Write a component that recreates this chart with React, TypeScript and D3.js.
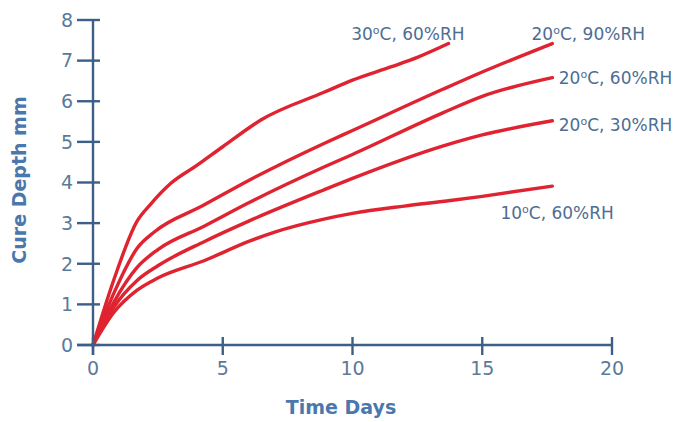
import React from 'react';
import * as d3 from 'd3';

type Pt = [number, number];

// values (days, mm)
const cure30c60: Pt[] = [[0, 0], [0.8, 1.6], [1.7, 3.05], [2.2, 3.45], [3, 3.98], [4, 4.42], [5, 4.88], [6.5, 5.55], [8.9, 6.22], [10, 6.52], [11.5, 6.85], [12.5, 7.08], [13.7, 7.42]];
const cure20c90: Pt[] = [[0, 0], [0.8, 1.27], [1.7, 2.38], [2.4, 2.8], [4.2, 3.42], [6, 4.05], [8.9, 4.96], [10, 5.28], [13.5, 6.3], [15, 6.72], [17.7, 7.42]];
const cure20c60: Pt[] = [[0, 0], [0.8, 1.05], [1.7, 1.91], [2.5, 2.35], [4.3, 2.93], [6, 3.5], [8.9, 4.38], [10, 4.69], [13.5, 5.72], [15, 6.12], [17.7, 6.58]];
const cure20c30: Pt[] = [[0, 0], [0.8, 0.93], [1.7, 1.59], [2.5, 1.95], [4.3, 2.55], [6, 3.05], [8.9, 3.82], [10, 4.1], [13.5, 4.9], [15, 5.17], [17.7, 5.52]];
const cure10c60: Pt[] = [[0, 0], [0.8, 0.8], [1.7, 1.35], [2.5, 1.65], [4.3, 2.08], [6, 2.55], [7, 2.78], [8.9, 3.1], [10, 3.24], [12, 3.42], [13.7, 3.55], [15, 3.66], [17.7, 3.91]];

const seriesNames = ['30ºC, 60%RH', '20ºC, 90%RH', '20ºC, 60%RH', '20ºC, 30%RH', '10ºC, 60%RH'];
const seriesData = [cure30c60, cure20c90, cure20c60, cure20c30, cure10c60];

const xTicks = [0, 5, 10, 15, 20];
const yTicks = [0, 1, 2, 3, 4, 5, 6, 7, 8];

// label anchor points in data space (start of text)
const labelAt: Pt[] = [[9.95, 7.65], [16.9, 7.65], [17.95, 6.57], [17.95, 5.43], [15.7, 3.24]];

const W = 694, H = 422;
const AXIS = '#3d5e87';
const TICK_TXT = '#5b7a9a';
const TITLE = '#4a78ad';
const LABEL = '#4d6e94';
const RED = '#df2330';
const FONT = '"DejaVu Sans", Verdana, sans-serif';

export default function App() {
    const x = d3.scaleLinear().domain([0, 20]).range([93, 612]);
    const y = d3.scaleLinear().domain([0, 8]).range([345, 20]);

    const line = d3.line<Pt>()
        .x(d => x(d[0]))
        .y(d => y(d[1]))
        .curve(d3.curveMonotoneX);

    // render the "º" as a small raised o, like the original artwork
    const degLabel = (s: string) => {
        const [num, rest] = s.split('º');
        return (<>
            {num}<tspan dy={-6} fontSize={11}>o</tspan><tspan dy={6}>{rest}</tspan>
        </>);
    };

    return (
        <svg width={W} height={H} style={{ position: 'absolute', left: 0, top: 0, background: '#fff' }} fontFamily={FONT}>
            {/* series */}
            <g fill='none' stroke={RED} strokeWidth={3.4} strokeLinecap='round' strokeLinejoin='round'>
                {seriesData.map((d, i) => <path key={`s-${i}`} d={line(d) || ''} />)}
            </g>

            {/* axes */}
            <g stroke={AXIS} strokeWidth={2.4}>
                <line x1={x(0)} x2={x(0)} y1={y(8)} y2={y(0) + 10} />
                {yTicks.map(t => <line key={`yt-${t}`} x1={x(0) - 16} x2={x(0) + 7} y1={y(t)} y2={y(t)} />)}
                <line x1={x(0) - 16} x2={x(20)} y1={y(0)} y2={y(0)} />
                {xTicks.map(t => <line key={`xt-${t}`} x1={x(t)} x2={x(t)} y1={y(0) - 8} y2={y(0) + 10} />)}
            </g>
            <g fill={TICK_TXT} fontSize={19}>
                {yTicks.map(t => <text key={`yl-${t}`} x={x(0) - 20} y={y(t)} dy='0.36em' textAnchor='end'>{t}</text>)}
                {xTicks.map(t => <text key={`xl-${t}`} x={x(t)} y={y(0) + 30} textAnchor='middle'>{t}</text>)}
            </g>

            {/* axis titles */}
            <text x={341} y={414} textAnchor='middle' fontWeight='bold' fontSize={19} fill={TITLE}>Time Days</text>
            <text transform='translate(26,180) rotate(-90)' textAnchor='middle' fontWeight='bold' fontSize={19} fill={TITLE}>Cure Depth mm</text>

            {/* series labels */}
            <g fill={LABEL} fontSize={17}>
                {seriesNames.map((n, i) => (
                    <text key={`lb-${i}`} x={x(labelAt[i][0])} y={y(labelAt[i][1])} dy='0.36em'>{degLabel(n)}</text>
                ))}
            </g>
        </svg>
    );
}
